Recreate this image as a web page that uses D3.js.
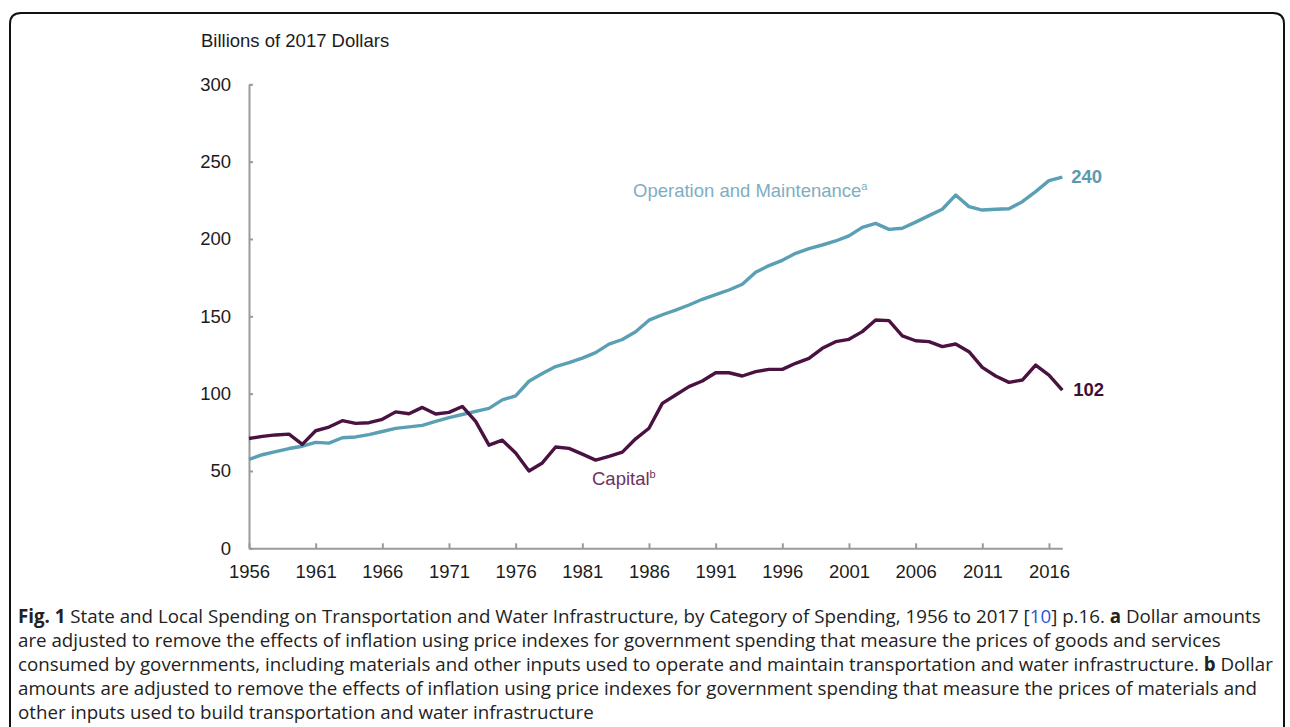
<!DOCTYPE html>
<html>
<head>
<meta charset="utf-8">
<script src="https://cdn.jsdelivr.net/npm/d3@7"></script>
<style>
body { margin:0; background:#fff; }
svg { display:block; }
.axis path, .axis line { stroke:#9a9a9a; stroke-width:2; }
.axis text { font-family:"Liberation Sans", Arial, sans-serif; font-size:18.5px; fill:#1c1c1c; }
</style>
</head>
<body>
<svg id="graph"></svg>
<script>
// data
var years = [1956,1957,1958,1959,1960,1961,1962,1963,1964,1965,
             1966,1967,1968,1969,1970,1971,1972,1973,1974,1975,
             1976,1977,1978,1979,1980,1981,1982,1983,1984,1985,
             1986,1987,1988,1989,1990,1991,1992,1993,1994,1995,
             1996,1997,1998,1999,2000,2001,2002,2003,2004,2005,
             2006,2007,2008,2009,2010,2011,2012,2013,2014,2015,
             2016,2017];

var operation = [57.5,60.5,62.5,64.5,66,68.5,68,71.5,72,73.5,
                 75.5,77.5,78.5,79.5,82,84.5,86.5,88.5,90.5,96,
                 98.5,108,113,117.5,120,123,126.5,132,135,140,
                 147.5,151,154,157.3,161,164,167,170.7,178.5,182.8,
                 186.2,190.7,193.8,196.1,198.7,202,207.5,210.1,206.2,206.9,
                 210.9,215.1,219.2,228.4,220.9,218.7,219.2,219.5,224.1,230.6,
                 237.7,240];

var capital = [71,72.4,73.3,73.8,67.2,76,78.4,82.5,80.8,81.2,
               83.4,88.2,87,91.1,86.8,87.9,91.7,82.1,66.7,69.9,
               61.6,50,55.2,65.5,64.6,60.9,57,59.4,62.2,70.8,
               77.6,93.7,99.1,104.5,108.2,113.5,113.5,111.4,114.2,115.7,
               115.7,119.6,122.8,129.3,133.6,135.1,140.1,147.6,147.2,137.3,
               134.2,133.6,130.4,132.1,127.1,117,111.4,107.3,108.8,118.5,
               112,102.3];

var yTicks = [0,50,100,150,200,250,300];
var xTicks = [1956,1961,1966,1971,1976,1981,1986,1991,1996,2001,2006,2011,2016];

var captionLines = [
  [["Fig. 1","b"],[" State and Local Spending on Transportation and Water Infrastructure, by Category of Spending, 1956 to 2017 [",""],["10","link"],["] p.16. ",""],["a","b"],[" Dollar amounts",""]],
  [["are adjusted to remove the effects of inflation using price indexes for government spending that measure the prices of goods and services",""]],
  [["consumed by governments, including materials and other inputs used to operate and maintain transportation and water infrastructure. ",""],["b","b"],[" Dollar",""]],
  [["amounts are adjusted to remove the effects of inflation using price indexes for government spending that measure the prices of materials and",""]],
  [["other inputs used to build transportation and water infrastructure",""]]
];

var width = 1290;
var height = 727;

var svg = d3.select("svg")
    .attr("width", width)
    .attr("height", height)

var colors = {om:"#5a9fb4", omLabel:"#7eaec1", cap:"#4a1240", capLabel:"#6d3263"}

// frame round the figure
svg.append("path")
    .attr("d", "M10,727 L10,24 Q10,13 21,13 L1273,13 Q1284,13 1284,24 L1284,727")
    .attr("fill", "none")
    .attr("stroke", "#111")
    .attr("stroke-width", 2)

var xScale = d3.scaleLinear()
    .domain([1956, 2017])
    .range([249, 1062.3])

var yScale = d3.scaleLinear()
    .domain([0, 300])
    .range([548.3, 84.3])

//y-axis
var yAxis = d3.axisLeft(yScale)
    .tickValues(yTicks)
    .tickSizeInner(-4)
    .tickSizeOuter(0)
    .tickPadding(18)

svg.append("g")
    .attr("class", "axis")
    .attr("transform", "translate(249,0)")
    .call(yAxis)

//x-axis
var xAxis = d3.axisBottom(xScale)
    .tickValues(xTicks)
    .tickFormat(d3.format("d"))
    .tickSizeInner(-5)
    .tickSizeOuter(0)
    .tickPadding(16.5)

svg.append("g")
    .attr("class", "axis")
    .attr("transform", "translate(0,548.3)")
    .call(xAxis)

svg.append("text")
    .attr("x", 201)
    .attr("y", 47)
    .attr("font-family", "Liberation Sans, Arial, sans-serif")
    .attr("font-size", "18.5px")
    .attr("fill", "#1c1c1c")
    .text("Billions of 2017 Dollars")

// lines
var lineFor = function(values){
    return d3.line()
        .x(function(d, i){ return xScale(years[i]) })
        .y(function(d){ return yScale(d) })(values)
}

svg.append("path")
    .attr("d", lineFor(operation))
    .attr("fill", "none")
    .attr("stroke", colors.om)
    .attr("stroke-width", 3.4)
    .attr("stroke-linejoin", "round")

svg.append("path")
    .attr("d", lineFor(capital))
    .attr("fill", "none")
    .attr("stroke", colors.cap)
    .attr("stroke-width", 3.4)
    .attr("stroke-linejoin", "round")

// series labels
var seriesLabel = function(x, y, name, sup, color){
    var t = svg.append("text")
        .attr("x", x)
        .attr("y", y)
        .attr("font-family", "Liberation Sans, Arial, sans-serif")
        .attr("font-size", "18.5px")
        .attr("fill", color)
    t.append("tspan").text(name)
    t.append("tspan")
        .attr("font-size", "11px")
        .attr("dy", -7)
        .text(sup)
}
seriesLabel(633, 197, "Operation and Maintenance", "a", colors.omLabel)
seriesLabel(592, 485, "Capital", "b", colors.capLabel)

// end values
var last = years.length - 1
svg.append("text")
    .attr("x", xScale(years[last]) + 9)
    .attr("y", yScale(operation[last]) + 6)
    .attr("font-family", "Liberation Sans, Arial, sans-serif")
    .attr("font-size", "18.5px")
    .attr("font-weight", "bold")
    .attr("fill", "#5a9ab0")
    .text(Math.round(operation[last]))

svg.append("text")
    .attr("x", xScale(years[last]) + 11)
    .attr("y", yScale(capital[last]) + 6)
    .attr("font-family", "Liberation Sans, Arial, sans-serif")
    .attr("font-size", "18.5px")
    .attr("font-weight", "bold")
    .attr("fill", "#3f0f31")
    .text(Math.round(capital[last]))

// caption
var caption = svg.append("g")
    .attr("font-family", "Open Sans, Noto Sans, sans-serif")
    .attr("fill", "#222")

var lineNodes = caption.selectAll("text")
    .data(captionLines)
    .enter()
    .append("text")
    .attr("x", 18)
    .attr("y", function(d, i){ return 623 + i * 24 })
    .attr("font-size", "17px")

lineNodes.selectAll("tspan")
    .data(function(d){ return d })
    .enter()
    .append("tspan")
    .attr("font-weight", function(d){ return d[1] == "b" ? "bold" : null })
    .attr("fill", function(d){ return d[1] == "link" ? "#2456d6" : null })
    .text(function(d){ return d[0] })

// fit font size so first line ends where it does in the figure
var w = lineNodes.node().getComputedTextLength()
var fs = 17 * 1244 / w
lineNodes.attr("font-size", fs + "px")
</script>
</body>
</html>
